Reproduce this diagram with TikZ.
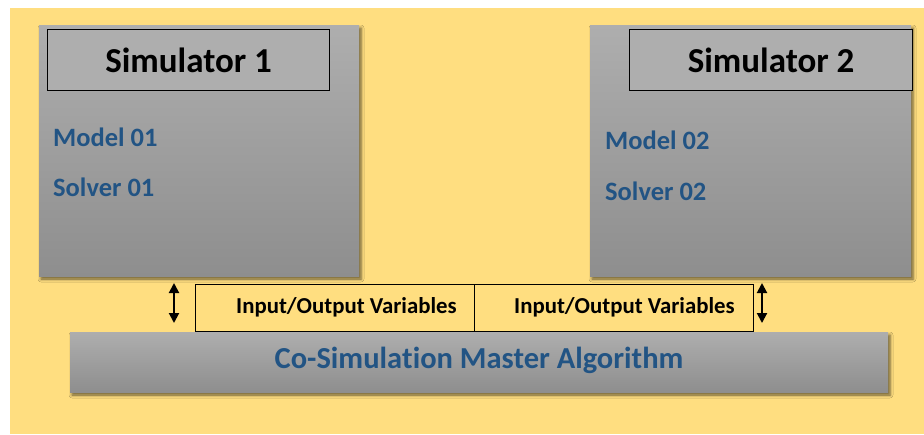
\documentclass[tikz,border=0pt]{standalone}
\usepackage{fontspec}
\setmainfont{Carlito}[Ligatures={NoCommon,NoContextual}]
\usetikzlibrary{shadows.blur,arrows.meta}
\definecolor{bgyellow}{RGB}{255,222,128}
\definecolor{graytop}{RGB}{174,174,174}
\definecolor{graybot}{RGB}{142,142,142}
\definecolor{textblue}{RGB}{34,84,132}

\begin{document}
\begin{tikzpicture}[x=1pt,y=-1pt,
  panel/.style={rectangle, draw=none, anchor=north west, inner sep=0pt, outer sep=0pt,
    top color=graytop, bottom color=graybot,
    blur shadow={shadow xshift=2pt, shadow yshift=-3pt, shadow blur radius=3pt, shadow opacity=60}},
  titlebox/.style={rectangle, draw=black, line width=1.2pt, fill=graytop, anchor=north west,
    inner sep=0pt, font=\bfseries\fontsize{35}{40}\selectfont},
  iobox/.style={rectangle, draw=black, line width=1.4pt, fill=bgyellow, anchor=north west,
    inner sep=0pt, minimum width=279pt, minimum height=47pt},
  item/.style={anchor=base west, inner sep=0pt, text=textblue, font=\bfseries\fontsize{26.5}{30}\selectfont},
  iolabel/.style={anchor=base west, inner sep=0pt, font=\bfseries\fontsize{22.8}{26}\selectfont},
  exchange/.style={{Triangle[width=10pt,length=10pt]}-{Triangle[width=10pt,length=10pt]}, line width=2pt,
    shorten <=7pt, shorten >=9pt}
]
\useasboundingbox (0,0) rectangle (924,434);
\fill[white] (0,0) rectangle (924,434);
\fill[bgyellow] (10,8) rectangle (924,434);

% simulators
\node[panel, minimum width=320pt, minimum height=251pt] (sim1) at (39,25) {};
\node[panel, minimum width=321pt, minimum height=251pt] (sim2) at (590,25) {};
\node[titlebox, minimum width=282pt, minimum height=61pt] (title1) at (47,29) {Simulator 1};
\node[titlebox, minimum width=283pt, minimum height=61pt] (title2) at (629,29) {Simulator 2};

\node[item] (model1) at (53,146) {Model 01};
\node[item] (solver1) at (53,196) {Solver 01};
\node[item] (model2) at (605,149) {Model 02};
\node[item] (solver2) at (605,200) {Solver 02};

% master algorithm (kern keeps "t" and "i" apart)
\node[panel, minimum width=818pt, minimum height=60pt] (master) at (70,332) {};
\node[anchor=base, inner sep=0pt, text=textblue, font=\bfseries\fontsize{30.5}{36}\selectfont]
  (masterlabel) at (479,368) {Co-Simula\kern0pt t\kern0pt ion Master Algorithm};

% exchanged variables
\node[iobox] (io1) at (195,284) {};
\node[iobox] (io2) at (474,284) {};
\node[iolabel] (io1label) at (236,313) {Input/Output Variables};
\node[iolabel] (io2label) at (514,313) {Input/Output Variables};

% data exchange arrows
\coordinate (leftx) at (174,0);
\coordinate (rightx) at (762,0);
\draw[exchange] (sim1.south -| leftx) -- (master.north -| leftx);
\draw[exchange] (sim2.south -| rightx) -- (master.north -| rightx);
\end{tikzpicture}
\end{document}
